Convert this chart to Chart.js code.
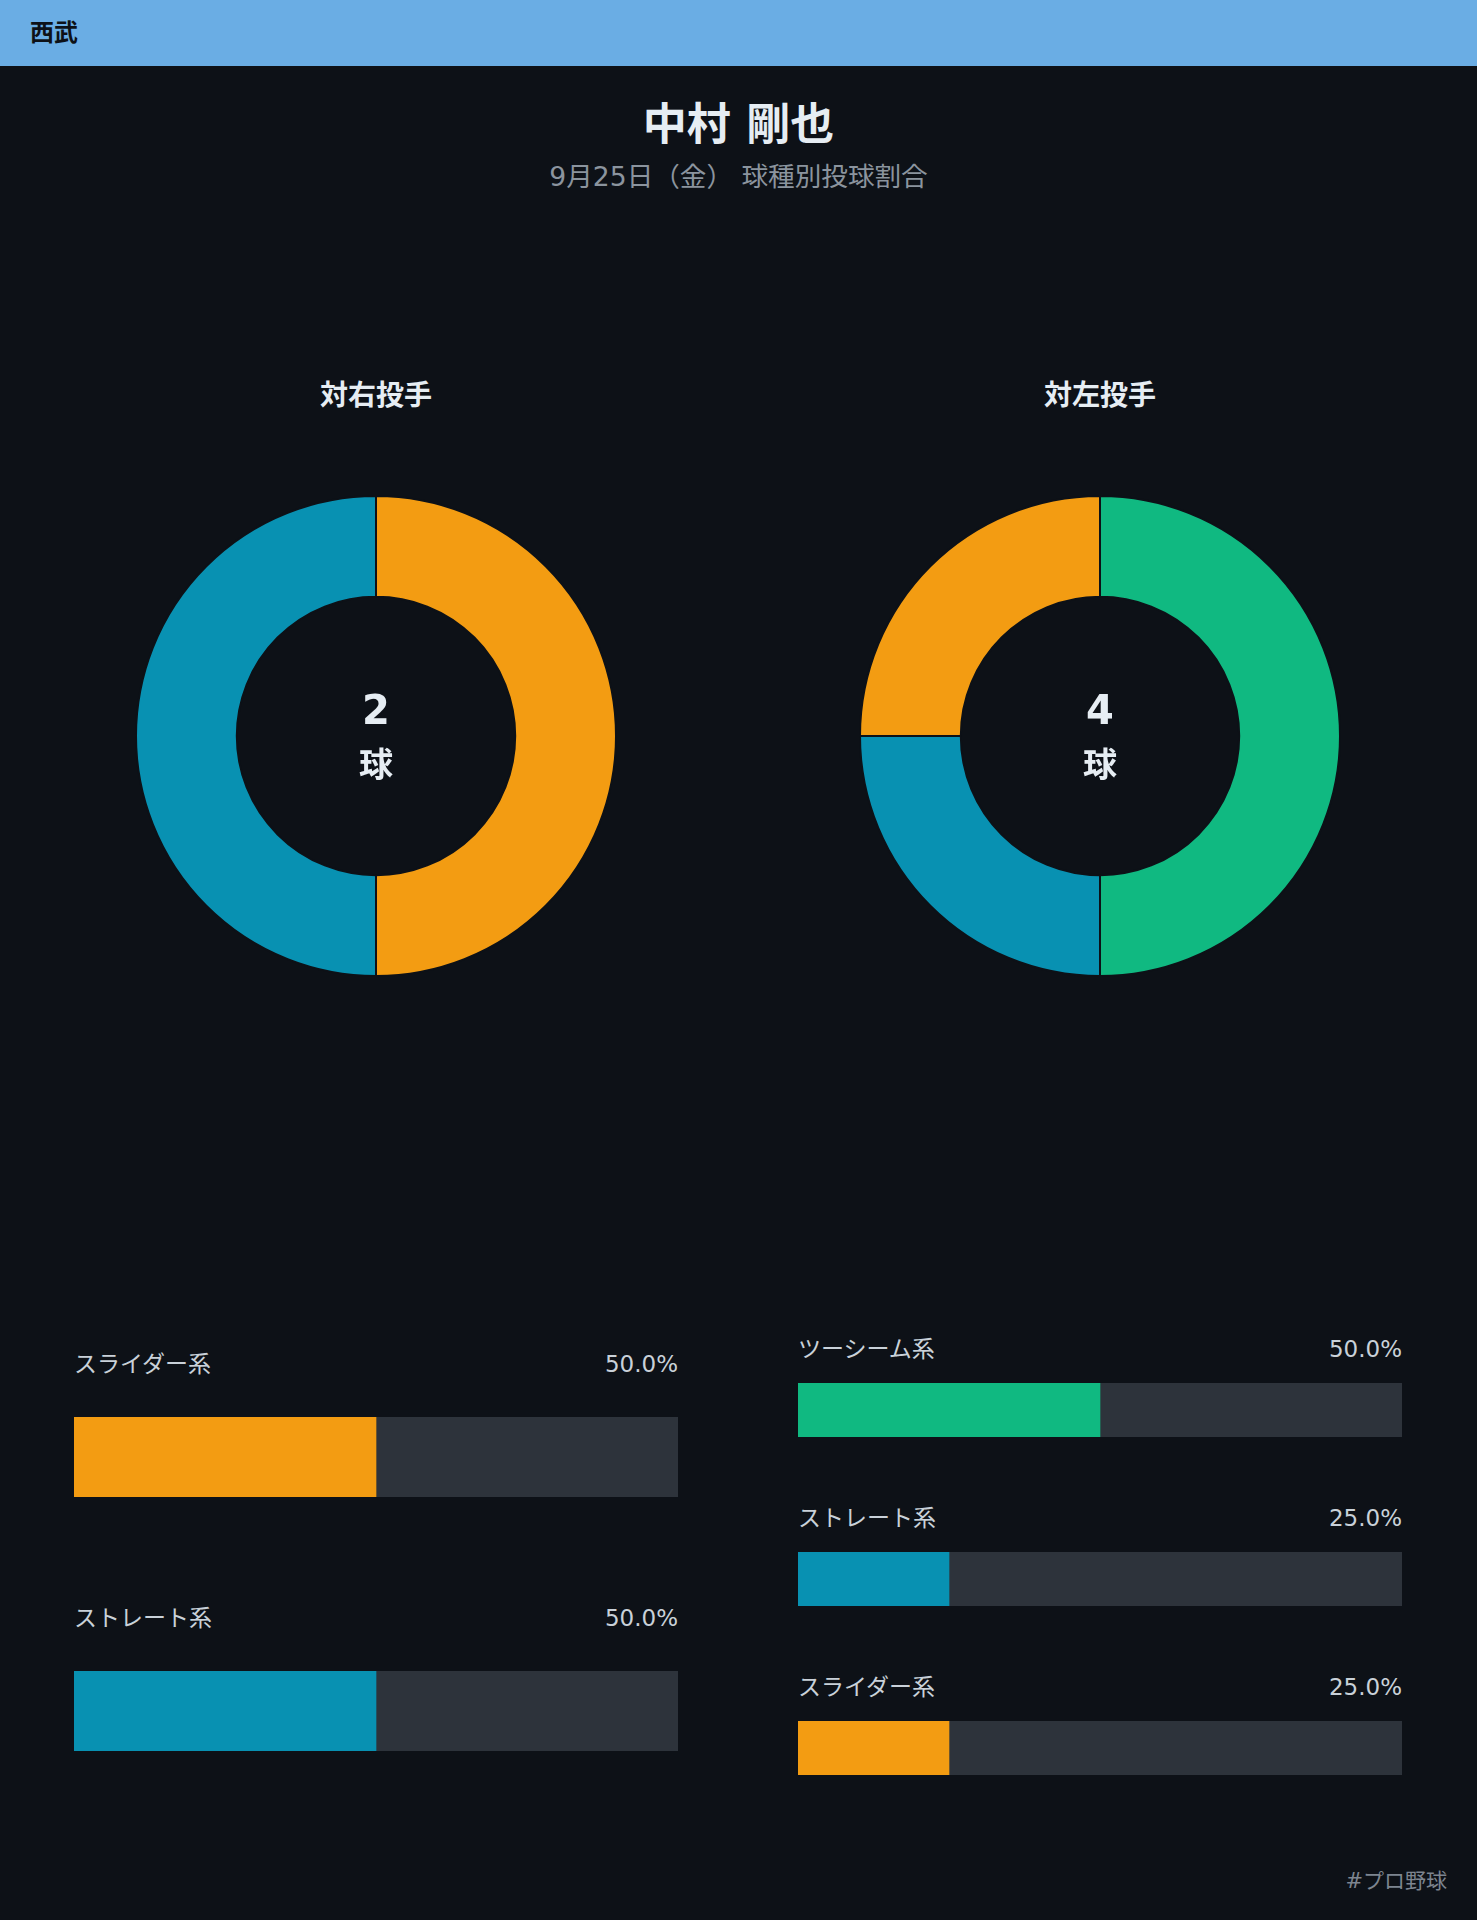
<!DOCTYPE html>
<html lang="ja">
<head>
<meta charset="utf-8">
<title>中村 剛也 球種別投球割合</title>
<script src="https://cdn.jsdelivr.net/npm/chart.js@4.4.1/dist/chart.umd.min.js"></script>
<style>
    html, body { margin: 0; padding: 0; }
    body {
        width: 1477px;
        height: 1920px;
        position: relative;
        overflow: hidden;
        background: #0d1117;
        font-family: "DejaVu Sans", "Noto Sans CJK JP", sans-serif;
        color: #e6edf3;
    }
    .abs { position: absolute; white-space: nowrap; }
    .team-bar {
        position: absolute; left: 0; top: 0; width: 1477px; height: 66px;
        background: #6aade4;
    }
    .team-bar span {
        position: absolute; left: 30px; top: 15px; line-height: 36px;
        font-size: 24px; font-weight: bold; color: #0d1117;
    }
    .center-text { text-align: center; }
    .row-label { font-size: 23px; color: #c9d1d9; line-height: 30px; }
    .footer { font-size: 21px; color: #7d8590; line-height: 30px; }
</style>
</head>
<body>
<div class="team-bar"><span>西武</span></div>
<div class="abs center-text" style="left:0; width:1477px; top:99px; line-height:52px; font-size:44px; font-weight:bold;">中村 剛也</div>
<div class="abs center-text" style="left:0; width:1477px; top:158px; line-height:38px; font-size:26.6px; color:#8b949e;">9月25日（金） 球種別投球割合</div>
<div id="app"></div>
<div class="abs footer" style="right:30px; top:1866px;">#プロ野球</div>

<script>
// --- data ---
const sideTitles = ['対右投手', '対左投手'];

const rightHandPitches = ['スライダー系', 'ストレート系'];
const rightHandCounts = [1, 1];
const rightHandPct = [50.0, 50.0];

const leftHandPitches = ['ツーシーム系', 'ストレート系', 'スライダー系'];
const leftHandCounts = [2, 1, 1];
const leftHandPct = [50.0, 25.0, 25.0];

const pitchColors = {
    'スライダー系': '#f39c12',
    'ストレート系': '#0891b2',
    'ツーシーム系': '#10b981'
};

const BG = '#0d1117';
const TRACK = '#2d333b';

// layout of the two columns (pixels)
const columns = [
    { cx: 376, barX: 74, barW: 604, labelY: 1364, labelGap: 53, barH: 80, pitch: 253.5 },
    { cx: 1100, barX: 798, barW: 604, labelY: 1349, labelGap: 34, barH: 54, pitch: 169 }
];
const donutCY = 736;
const donutR = 241;

const app = document.getElementById('app');

function addDiv(style, text, cls) {
    const d = document.createElement('div');
    d.className = 'abs ' + (cls || '');
    Object.assign(d.style, style);
    if (text !== undefined) d.textContent = text;
    app.appendChild(d);
    return d;
}

function drawDonut(col, pitches, counts) {
    const box = addDiv({ left: (col.cx - donutR) + 'px', top: (donutCY - donutR) + 'px',
        width: donutR * 2 + 'px', height: donutR * 2 + 'px' });
    const canvas = document.createElement('canvas');
    box.appendChild(canvas);
    new Chart(canvas.getContext('2d'), {
        type: 'doughnut',
        data: {
            labels: pitches,
            datasets: [{
                data: counts,
                backgroundColor: pitches.map(p => pitchColors[p]),
                borderColor: BG,
                borderWidth: 2,
                hoverOffset: 0
            }]
        },
        options: {
            responsive: true,
            maintainAspectRatio: false,
            animation: false,
            cutout: '58%',
            layout: { padding: 0 },
            plugins: { legend: { display: false }, tooltip: { enabled: false } }
        }
    });

    // total pitches in the middle
    const total = counts.reduce((a, b) => a + b, 0);
    addDiv({ left: (col.cx - 100) + 'px', width: '200px', top: (donutCY - 26 - 25) + 'px',
        lineHeight: '50px', fontSize: '40px', fontWeight: 'bold' }, String(total), 'center-text');
    addDiv({ left: (col.cx - 100) + 'px', width: '200px', top: (donutCY + 29 - 22) + 'px',
        lineHeight: '44px', fontSize: '34px', fontWeight: 'bold' }, '球', 'center-text');
}

function drawBars(col, pitches, pct) {
    pitches.forEach((name, i) => {
        const ly = col.labelY + i * col.pitch;
        addDiv({ left: col.barX + 'px', top: (ly - 15) + 'px' }, name, 'row-label');
        addDiv({ left: col.barX + 'px', width: col.barW + 'px', top: (ly - 15) + 'px', textAlign: 'right' },
            pct[i].toFixed(1) + '%', 'row-label');

        const box = addDiv({ left: col.barX + 'px', top: (ly + col.labelGap) + 'px',
            width: col.barW + 'px', height: col.barH + 'px' });
        const canvas = document.createElement('canvas');
        box.appendChild(canvas);
        new Chart(canvas.getContext('2d'), {
            type: 'bar',
            data: {
                labels: [name],
                datasets: [
                    { data: [pct[i]], backgroundColor: pitchColors[name], grouped: false,
                      barPercentage: 1, categoryPercentage: 1, borderWidth: 0 },
                    { data: [100], backgroundColor: TRACK, grouped: false,
                      barPercentage: 1, categoryPercentage: 1, borderWidth: 0 }
                ]
            },
            options: {
                indexAxis: 'y',
                responsive: true,
                maintainAspectRatio: false,
                animation: false,
                layout: { padding: 0 },
                scales: {
                    x: { display: false, min: 0, max: 100 },
                    y: { display: false }
                },
                plugins: { legend: { display: false }, tooltip: { enabled: false } }
            }
        });
    });
}

// section titles
columns.forEach((col, i) => {
    addDiv({ left: (col.cx - 200) + 'px', width: '400px', top: (396 - 19) + 'px',
        lineHeight: '38px', fontSize: '28px', fontWeight: 'bold' }, sideTitles[i], 'center-text');
});

drawDonut(columns[0], rightHandPitches, rightHandCounts);
drawDonut(columns[1], leftHandPitches, leftHandCounts);
drawBars(columns[0], rightHandPitches, rightHandPct);
drawBars(columns[1], leftHandPitches, leftHandPct);
</script>
</body>
</html>
